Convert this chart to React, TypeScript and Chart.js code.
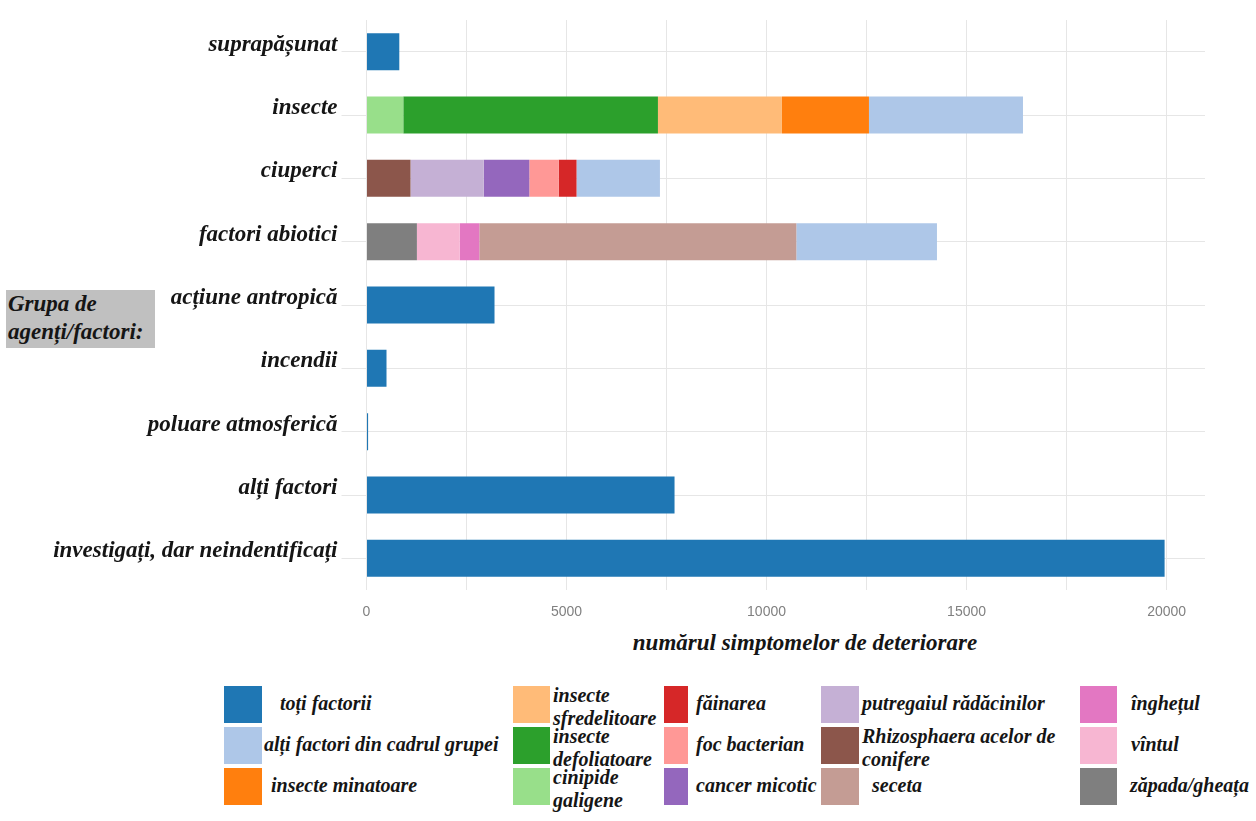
import React, { useEffect, useRef } from 'react';
import { Chart, registerables } from 'chart.js';

Chart.register(...registerables);

// ---------- data ----------
const categories = [
  'suprapășunat',
  'insecte',
  'ciuperci',
  'factori abiotici',
  'acțiune antropică',
  'incendii',
  'poluare atmosferică',
  'alți factori',
  'investigați, dar neindentificați',
];

const xMax = 20960;
const xGridValues = [0, 2500, 5000, 7500, 10000, 12500, 15000, 17500, 20000];
const xLabelValues = [0, 5000, 10000, 15000, 20000];

const totiFactorii = [820, null, null, null, 3200, 500, 40, 7700, 19950];
const cinipideGaligene = [null, 920, null, null, null, null, null, null, null];
const insecteDefoliatoare = [null, 6365, null, null, null, null, null, null, null];
const insecteSfredelitoare = [null, 3100, null, null, null, null, null, null, null];
const insecteMinatoare = [null, 2175, null, null, null, null, null, null, null];
const rhizosphaera = [null, null, 1100, null, null, null, null, null, null];
const putregaiulRadacinilor = [null, null, 1830, null, null, null, null, null, null];
const cancerMicotic = [null, null, 1140, null, null, null, null, null, null];
const focBacterian = [null, null, 735, null, null, null, null, null, null];
const fainarea = [null, null, 445, null, null, null, null, null, null];
const zapadaGheata = [null, null, null, 1260, null, null, null, null, null];
const vintul = [null, null, null, 1070, null, null, null, null, null];
const inghetul = [null, null, null, 490, null, null, null, null, null];
const seceta = [null, null, null, 7925, null, null, null, null, null];
const altiFactoriGrupa = [null, 3850, 2085, 3515, null, null, null, null, null];

// stacking order (left to right inside a bar)
const series = [
  { key: 'toti', label: 'toți factorii', color: '#1f77b4', data: totiFactorii },
  { key: 'cinipide', label: 'cinipide\ngaligene', color: '#98df8a', data: cinipideGaligene },
  { key: 'defoliatoare', label: 'insecte\ndefoliatoare', color: '#2ca02c', data: insecteDefoliatoare },
  { key: 'sfredelitoare', label: 'insecte\nsfredelitoare', color: '#ffbb78', data: insecteSfredelitoare },
  { key: 'minatoare', label: 'insecte minatoare', color: '#ff7f0e', data: insecteMinatoare },
  { key: 'rhizo', label: 'Rhizosphaera acelor de\nconifere', color: '#8c564b', data: rhizosphaera },
  { key: 'putregai', label: 'putregaiul rădăcinilor', color: '#c5b0d5', data: putregaiulRadacinilor },
  { key: 'cancer', label: 'cancer micotic', color: '#9467bd', data: cancerMicotic },
  { key: 'foc', label: 'foc bacterian', color: '#ff9896', data: focBacterian },
  { key: 'fainarea', label: 'făinarea', color: '#d62728', data: fainarea },
  { key: 'zapada', label: 'zăpada/gheața', color: '#7f7f7f', data: zapadaGheata },
  { key: 'vintul', label: 'vîntul', color: '#f7b6d2', data: vintul },
  { key: 'inghetul', label: 'înghețul', color: '#e377c2', data: inghetul },
  { key: 'seceta', label: 'seceta', color: '#c49c94', data: seceta },
  { key: 'alti', label: 'alți factori din cadrul grupei', color: '#aec7e8', data: altiFactoriGrupa },
];

// ---------- legend layout ----------
const legendRowTops = [686, 727, 768];
const legendSwatchH = 37;
const legendColumns = [
  { swatchX: 224, swatchW: 38, items: [{ key: 'toti', tx: 280 }, { key: 'alti', tx: 264 }, { key: 'minatoare', tx: 271 }] },
  { swatchX: 513, swatchW: 37, items: [{ key: 'sfredelitoare', tx: 553 }, { key: 'defoliatoare', tx: 553 }, { key: 'cinipide', tx: 553 }] },
  { swatchX: 664, swatchW: 24, items: [{ key: 'fainarea', tx: 696 }, { key: 'foc', tx: 696 }, { key: 'cancer', tx: 696 }] },
  { swatchX: 821, swatchW: 38, items: [{ key: 'putregai', tx: 862 }, { key: 'rhizo', tx: 862 }, { key: 'seceta', tx: 872 }] },
  { swatchX: 1080, swatchW: 37, items: [{ key: 'inghetul', tx: 1131 }, { key: 'vintul', tx: 1131 }, { key: 'zapada', tx: 1130 }] },
];

const SERIF = "'Liberation Serif', 'Times New Roman', serif";
const SANS = "'Liberation Sans', Arial, sans-serif";

export default function App() {
  const canvasRef = useRef<HTMLCanvasElement>(null);

  useEffect(() => {
    const chart = new Chart(canvasRef.current as HTMLCanvasElement, {
      type: 'bar',
      data: {
        labels: categories,
        datasets: series.map((s) => ({
          label: s.label,
          data: s.data as any,
          backgroundColor: s.color,
          borderWidth: 0,
          barPercentage: 0.585,
          categoryPercentage: 1,
        })),
      },
      options: {
        indexAxis: 'y',
        animation: false,
        responsive: false,
        maintainAspectRatio: false,
        layout: { padding: { top: 20, right: 51, left: 0, bottom: 0 } },
        plugins: { legend: { display: false }, tooltip: { enabled: false } },
        scales: {
          x: {
            type: 'linear',
            stacked: true,
            min: 0,
            max: xMax,
            border: { display: false },
            afterBuildTicks: (scale: any) => {
              scale.ticks = xGridValues.map((v) => ({ value: v }));
            },
            grid: {
              color: '#e6e6e6',
              drawTicks: false,
              lineWidth: 1,
            },
            ticks: {
              autoSkip: false,
              maxRotation: 0,
              padding: 14,
              color: '#808080',
              font: { family: SANS, size: 14 },
              callback: (v: any) => (xLabelValues.includes(Number(v)) ? String(v) : ''),
            },
            afterFit: (s: any) => {
              s.height = 40;
            },
          },
          y: {
            type: 'category',
            stacked: true,
            offset: true,
            border: { display: false },
            grid: {
              offset: false,
              color: '#e6e6e6',
              tickColor: '#e6e6e6',
              tickLength: 25,
              drawTicks: true,
            },
            ticks: {
              padding: 4,
              labelOffset: -7,
              autoSkip: false,
              color: '#151515',
              font: { family: SERIF, size: 23, style: 'italic', weight: 'bold' },
            },
            afterFit: (s: any) => {
              s.width = 366.5;
            },
          },
        },
      } as any,
    });
    return () => chart.destroy();
  }, []);

  const byKey: Record<string, any> = {};
  series.forEach((s) => (byKey[s.key] = s));

  return (
    <div
      style={{
        position: 'absolute',
        left: 0,
        top: 0,
        width: 1256,
        height: 821,
        background: '#ffffff',
        overflow: 'hidden',
      }}
    >
      <canvas
        ref={canvasRef}
        width={1256}
        height={630}
        style={{ position: 'absolute', left: 0, top: 0, width: 1256, height: 630, display: 'block' }}
      />
      {/* y-axis title box */}
      <div
        style={{
          position: 'absolute',
          left: 6,
          top: 290,
          width: 149,
          height: 58,
          background: '#c0c0c0',
          boxSizing: 'border-box',
          paddingLeft: 2,
          paddingTop: 0,
          fontFamily: SERIF,
          fontStyle: 'italic',
          fontWeight: 'bold',
          fontSize: 23,
          lineHeight: '28px',
          color: '#151515',
          whiteSpace: 'nowrap',
        }}
      >
        Grupa de
        <br />
        agenți/factori:
      </div>
      {/* x-axis title */}
      <div
        style={{
          position: 'absolute',
          left: 805,
          top: 643,
          transform: 'translate(-50%, -50%)',
          fontFamily: SERIF,
          fontStyle: 'italic',
          fontWeight: 'bold',
          fontSize: 23,
          color: '#151515',
          whiteSpace: 'nowrap',
        }}
      >
        numărul simptomelor de deteriorare
      </div>
      {/* legend */}
      {legendColumns.map((col, ci) =>
        col.items.map((it, ri) => {
          const s = byKey[it.key];
          const top = legendRowTops[ri];
          const lines = s.label.split('\n');
          return (
            <React.Fragment key={`${ci}-${ri}`}>
              <div
                style={{
                  position: 'absolute',
                  left: col.swatchX,
                  top,
                  width: col.swatchW,
                  height: legendSwatchH,
                  background: s.color,
                }}
              />
              <div
                style={{
                  position: 'absolute',
                  left: it.tx,
                  top: top + legendSwatchH / 2 + (lines.length > 1 ? 2 : -2),
                  transform: 'translateY(-50%)',
                  fontFamily: SERIF,
                  fontStyle: 'italic',
                  fontWeight: 'bold',
                  fontSize: 20,
                  lineHeight: '23px',
                  color: '#151515',
                  whiteSpace: 'nowrap',
                }}
              >
                {lines.map((l: string, li: number) => (
                  <div key={li}>{l}</div>
                ))}
              </div>
            </React.Fragment>
          );
        })
      )}
    </div>
  );
}
